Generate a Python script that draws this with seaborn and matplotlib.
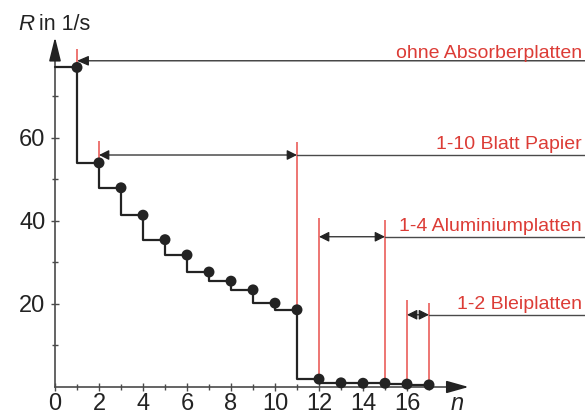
import matplotlib
matplotlib.use('Agg')
import numpy as np
import pandas as pd
import matplotlib.pyplot as plt
import seaborn as sns

# Messwerte: Zaehlrate R nach n Absorberplatten
n = [1, 2, 3, 4, 5, 6, 7, 8, 9, 10, 11, 12, 13, 14, 15, 16, 17]
R = [77, 54, 48, 41.4, 35.5, 31.8, 27.7, 25.5, 23.4, 20.2, 18.6, 1.9, 1.0, 0.9, 0.9, 0.7, 0.5]

# Bereiche der Absorber (Start-n, End-n, Beschriftung)
groups = ['ohne Absorberplatten', '1-10 Blatt Papier', '1-4 Aluminiumplatten', '1-2 Bleiplatten']
group_start = [1, 2, 12, 16]
group_end = [1, 11, 15, 17]
group_level = [78.6, 55.9, 36.2, 17.4]
group_top = [[81.4], [59.2, 59.0], [40.6, 40.3], [21.0, 20.3]]

RED = '#dc3c36'
RED_LINE = '#e8504c'
DARK = '#232323'
GREY = '#4a4a4a'

sns.set_style('white')
plt.rcParams['font.family'] = ['Liberation Sans', 'DejaVu Sans']

fig = plt.figure(figsize=(5.85, 4.15), dpi=100)
ax = fig.add_axes([0, 0, 1, 1])
ax.patch.set_alpha(0)

# Treppenkurve + Messpunkte
steps = pd.DataFrame({'n': [0] + n, 'R': [R[0]] + R})
pts = pd.DataFrame({'n': n, 'R': R})
sns.lineplot(data=steps, x='n', y='R', drawstyle='steps-pre', color=DARK, lw=1.6, ax=ax, zorder=3)
sns.scatterplot(data=pts, x='n', y='R', color=DARK, s=62, edgecolor='none', ax=ax, zorder=4)

x_right = 24.09
head = '<|-|>,head_length=0.6,head_width=0.3'
for label, x0, x1, y, tops in zip(groups, group_start, group_end, group_level, group_top):
    # rote Markierungslinien
    for xv, top in zip([x0, x1] if x0 != x1 else [x0], tops):
        ax.vlines(xv, R[n.index(xv)], top, color=RED_LINE, lw=1.1, zorder=2)
    if x0 == x1:
        ax.annotate('', xy=(x0, y), xytext=(x_right, y),
                    arrowprops=dict(arrowstyle='-|>,head_length=0.7,head_width=0.3', color=DARK,
                                    lw=0.9, mutation_scale=10, shrinkA=0, shrinkB=0))
    else:
        ax.annotate('', xy=(x0, y), xytext=(x1, y),
                    arrowprops=dict(arrowstyle=head, color=DARK,
                                    lw=0.9, mutation_scale=10, shrinkA=0, shrinkB=0))
        ax.plot([x1, x_right], [y, y], color=GREY, lw=1.0)
    off = 2 if x0 == x1 else 4.5
    ax.annotate(label, xy=(23.95, y), xytext=(0, off), textcoords='offset points',
                ha='right', va='baseline', color=RED, fontsize=14)

# Achsen
ax.set_xlim(-2.5, x_right)
ax.set_ylim(-6.75, 93.25)
for s in ['top', 'right']:
    ax.spines[s].set_visible(False)
ax.spines['left'].set_position(('data', 0))
ax.spines['bottom'].set_position(('data', 0))
ax.spines['left'].set_bounds(0, 80)
ax.spines['bottom'].set_bounds(0, 18)
for s in ['left', 'bottom']:
    ax.spines[s].set_color(GREY)
    ax.spines[s].set_linewidth(1.2)
ax.annotate('', xy=(0, 84.3), xytext=(0, 79.5),
            arrowprops=dict(arrowstyle='-|>,head_length=1.45,head_width=0.36', color=DARK,
                            lw=1.2, mutation_scale=10, shrinkA=0, shrinkB=0))
ax.annotate('', xy=(18.8, 0), xytext=(17.9, 0),
            arrowprops=dict(arrowstyle='-|>,head_length=1.35,head_width=0.38', color=DARK,
                            lw=1.2, mutation_scale=10, shrinkA=0, shrinkB=0))

ax.set_xticks(range(0, 17, 2))
ax.set_xticks(range(1, 18, 2), minor=True)
ax.set_yticks([20, 40, 60])
ax.set_yticks([10, 30, 50, 70], minor=True)
ax.tick_params(which='both', bottom=True, left=True)
ax.tick_params(which='major', direction='inout', length=6, width=1, color=GREY,
               labelsize=17, labelcolor=DARK)
ax.tick_params(which='minor', direction='inout', length=4, width=1, color=GREY)
ax.tick_params(axis='x', which='major', pad=1.0)
ax.tick_params(axis='y', which='major', pad=4)
ax.set_xlabel('')
ax.set_ylabel('')

ax.text(-1.65, 87.3, 'R', fontsize=16, color=DARK, ha='left', va='center', style='italic')
ax.text(-0.75, 87.3, 'in 1/s', fontsize=15.5, color=DARK, ha='left', va='center')
ax.text(18.3, -5.5, 'n', fontsize=17, color=DARK, ha='center', va='baseline', style='italic')

fig.savefig('out.png', dpi=100)
